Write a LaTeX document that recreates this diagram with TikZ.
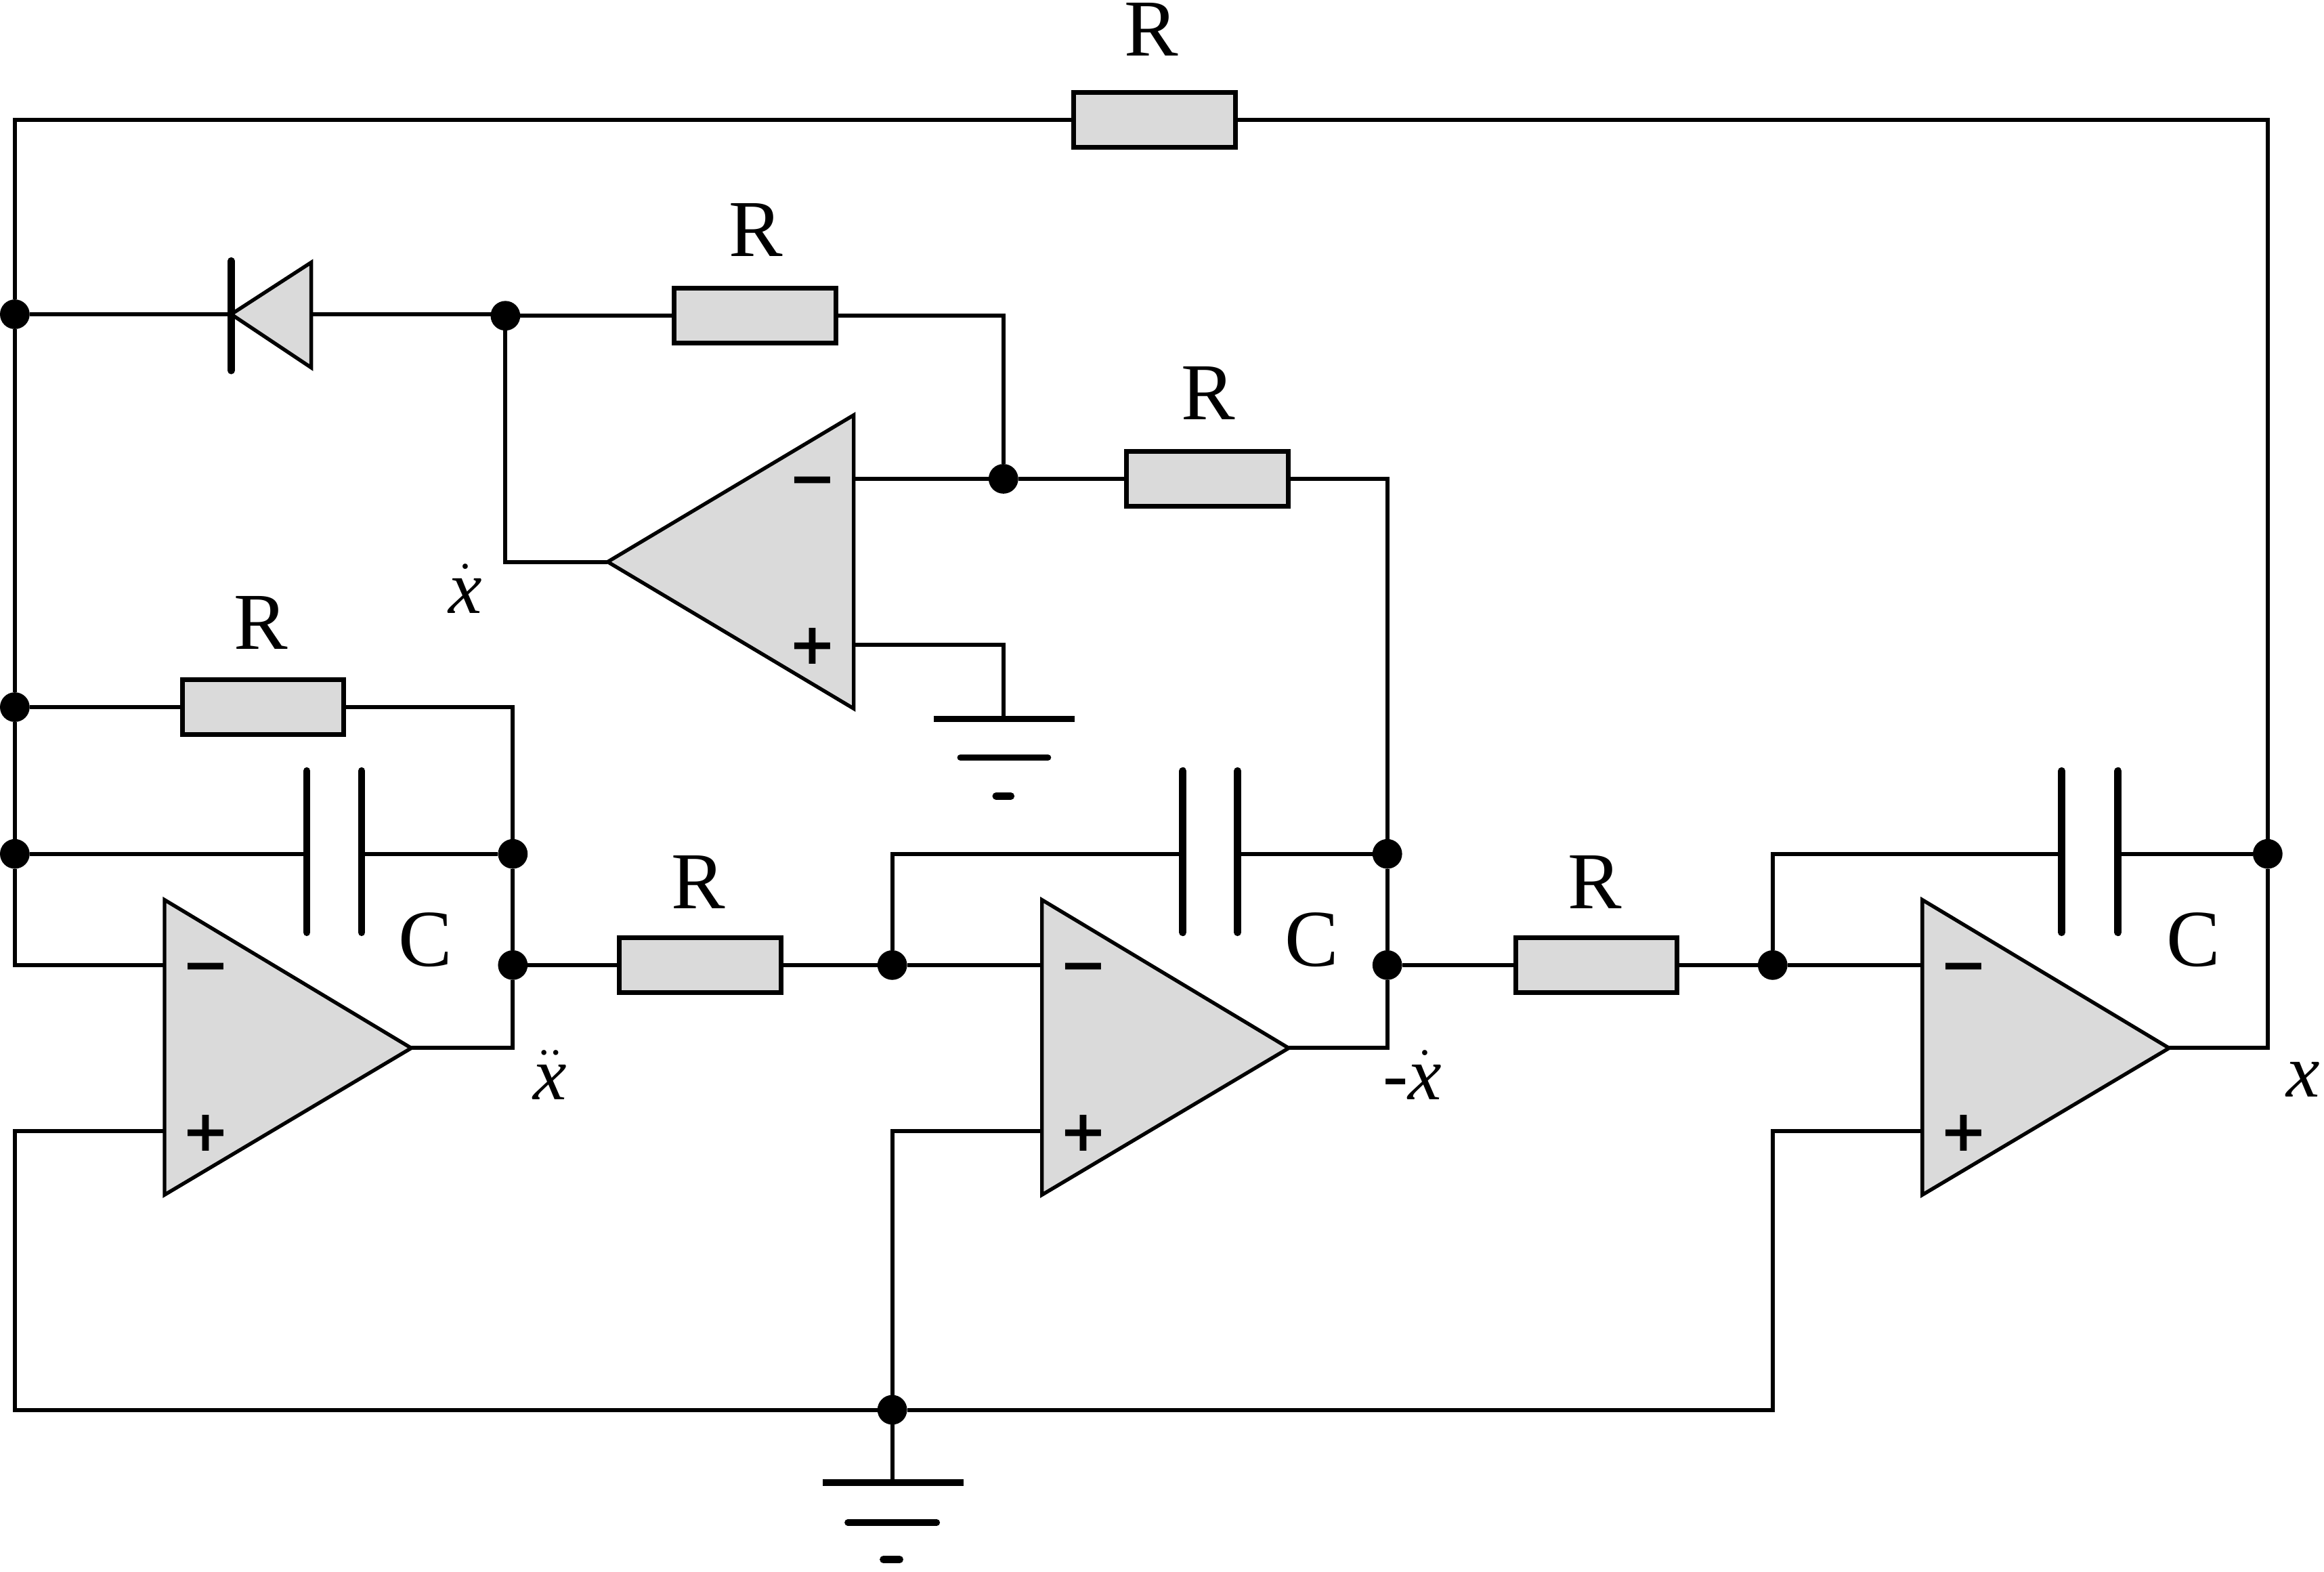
\documentclass[tikz,border=0pt]{standalone}
\usepackage{fontspec}
\setmainfont{Liberation Serif}
\newfontfamily\signfont{DejaVu Sans Bold}
\definecolor{partgray}{HTML}{DADADA}
\tikzset{
  wire/.style={line width=1.55pt,line join=miter},
  part/.style={draw=black,line width=1.8pt,fill=partgray,line join=miter},
  res/.style={part,rectangle,minimum width=2.18cm,minimum height=0.74cm,inner sep=0pt,outer sep=0pt},
  jn/.style={circle,fill=black,minimum size=0.4cm,inner sep=0pt,outer sep=0pt},
  plate/.style={line width=2.8pt,line cap=round},
  ampbody/.style={draw=black,line width=1.4pt,fill=partgray,line join=miter},
  lbl/.style={inner sep=0pt,font=\fontsize{31}{31}\selectfont},
  mathlbl/.style={inner sep=0pt,font=\fontsize{29}{29}\selectfont},
  sign/.style={inner sep=0pt,font=\signfont\fontsize{22}{22}\selectfont},
  gbar/.style={line width=2.5pt},
}
\newcommand{\opampat}[3]{%
  \begin{scope}[shift={(#2,#3)}]
    \draw[ampbody] (0,0) -- (0,199) -- (166.5,100) -- cycle;
    \coordinate (#1m) at (0,44);
    \coordinate (#1p) at (0,156);
    \coordinate (#1o) at (166.5,100);
    \node[sign] (#1ms) at (28,50) {−};
    \node[sign] (#1ps) at (28,157.5) {+};
  \end{scope}}
\newcommand{\capat}[4]{%
  \coordinate (#1a) at (#2,#4);
  \coordinate (#1b) at (#3,#4);
  \coordinate (#1at) at (#2,520); \coordinate (#1ab) at (#2,629);
  \coordinate (#1bt) at (#3,520); \coordinate (#1bb) at (#3,629);
  \draw[plate] (#1at) -- (#1ab);
  \draw[plate] (#1bt) -- (#1bb);}
\begin{document}
\begin{tikzpicture}[x=0.02cm,y=-0.02cm]
\useasboundingbox (0,0) rectangle (1568,1060);
% resistors
\node[res] (r0) at (779,81) {};
\node[res] (r1) at (509.5,213) {};
\node[res] (r2) at (814.5,323) {};
\node[res] (r3) at (177.5,477) {};
\node[res] (r4) at (472.5,651) {};
\node[res] (r5) at (1077,651) {};
% junctions
\node[jn] (j1) at (10,212) {};
\node[jn] (j2) at (10,477) {};
\node[jn] (j3) at (10,576) {};
\node[jn] (j4) at (341,213) {};
\node[jn] (j5) at (677,323) {};
\node[jn] (j6) at (346,576) {};
\node[jn] (j7) at (346,651) {};
\node[jn] (j8) at (602,651) {};
\node[jn] (j9) at (936,576) {};
\node[jn] (j10) at (936,651) {};
\node[jn] (j11) at (1196,651) {};
\node[jn] (j12) at (1530,576) {};
\node[jn] (j13) at (602,951) {};
% free corners
\coordinate (tl) at (10,81);
\coordinate (tr) at (1530,81);
\coordinate (bl) at (10,951);
\coordinate (br) at (1196,951);
% op-amps
\opampat{a}{111}{607}
\opampat{b}{703}{607}
\opampat{c}{1297}{607}
\draw[ampbody] (576,280) -- (576,478) -- (410,379) -- cycle;
\coordinate (tm) at (576,323);
\coordinate (tp) at (576,435);
\coordinate (to) at (410,379);
\node[sign] (tms) at (548,329) {−};
\node[sign] (tps) at (548,436) {+};
% capacitors
\capat{ca}{207}{244}{576}
\capat{cb}{798}{835}{576}
\capat{cc}{1391}{1429}{576}
% diode
\coordinate (dk) at (156,212);
\coordinate (dat) at (210,177);
\coordinate (dab) at (210,248);
\coordinate (da) at (210,212);
\coordinate (dbt) at (156,176);
\coordinate (dbb) at (156,250);
\draw[ampbody] (dat) -- (dab) -- (dk) -- cycle;
\draw[plate] (dbt) -- (dbb);
% grounds
\coordinate (g1) at (677,485);
\draw[gbar] (630,485) -- (725,485);
\draw[gbar,line cap=round] (648,511) -- (707,511);
\draw[gbar,line width=2.8pt,line cap=round] (672,537) -- (682,537);
\coordinate (g2) at (602,1000);
\draw[gbar] (555,1000) -- (650,1000);
\draw[gbar,line cap=round] (572,1027) -- (632,1027);
\draw[gbar,line width=2.8pt,line cap=round] (596,1052) -- (607,1052);
% wires
\draw[wire] (j1) -- (tl) -- (r0.west);
\draw[wire] (r0.east) -- (tr) -- (j12);
\draw[wire] (j1) -- (j2);
\draw[wire] (j2) -- (j3);
\draw[wire] (j1) -- (dk);
\draw[wire] (da) -- (da -| j4);
\draw[wire] (j4) -- (r1.west);
\draw[wire] (r1.east) -| (j5);
\draw[wire] (tm) -- (j5);
\draw[wire] (j5) -- (r2.west);
\draw[wire] (r2.east) -| (j9);
\draw[wire] (j4) |- (to);
\draw[wire] (tp) -| (g1);
\draw[wire] (j2) -- (r3.west);
\draw[wire] (r3.east) -| (j6);
\draw[wire] (j3) -- (caa);
\draw[wire] (cab) -- (j6);
\draw[wire] (j6) -- (j7);
\draw[wire] (j3) |- (am);
\draw[wire] (ao) -| (j7);
\draw[wire] (j7) -- (r4.west);
\draw[wire] (r4.east) -- (j8);
\draw[wire] (j8) -- (bm);
\draw[wire] (j8) |- (cba);
\draw[wire] (cbb) -- (j9);
\draw[wire] (j9) -- (j10);
\draw[wire] (bo) -| (j10);
\draw[wire] (j10) -- (r5.west);
\draw[wire] (r5.east) -- (j11);
\draw[wire] (j11) -- (cm);
\draw[wire] (j11) |- (cca);
\draw[wire] (ccb) -- (j12);
\draw[wire] (co) -| (j12);
\draw[wire] (ap) -| (bl) -- (j13);
\draw[wire] (bp) -| (j13);
\draw[wire] (j13) -- (br) |- (cp);
\draw[wire] (j13) -- (g2);
% labels
\node[lbl] (lr0) at (777,20) {R};
\node[lbl] (lr1) at (510,155) {R};
\node[lbl] (lr2) at (815,265) {R};
\node[lbl] (lr3) at (176,420) {R};
\node[lbl] (lr4) at (471,595) {R};
\node[lbl] (lr5) at (1076,595) {R};
\node[lbl] (lc1) at (287,634) {C};
\node[lbl] (lc2) at (885,634) {C};
\node[lbl] (lc3) at (1480,634) {C};
\node[mathlbl] (lx1) at (314,397) {$\dot{\mathit{x}}$};
\node[mathlbl] (lx2) at (371,725) {$\ddot{\mathit{x}}$};
\node[mathlbl] (lx3) at (953,725) {-$\dot{\mathit{x}}$};
\node[mathlbl] (lx4) at (1554,728) {$\mathit{x}$};
\end{tikzpicture}
\end{document}
